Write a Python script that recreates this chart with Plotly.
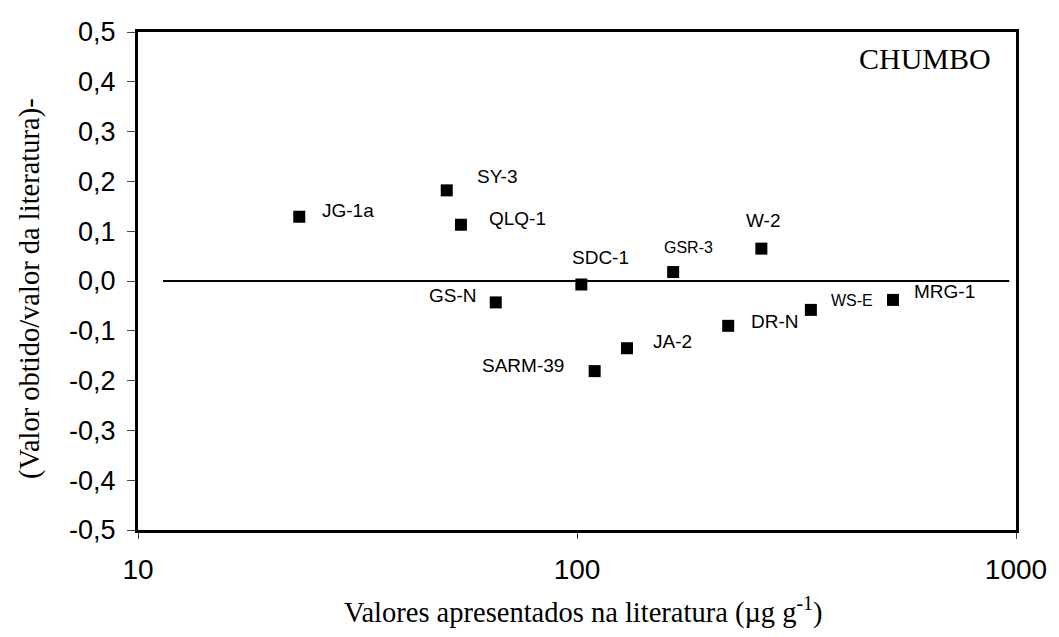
import math
import plotly.graph_objects as go

# ---- data ----
samples = ["JG-1a", "SY-3", "QLQ-1", "GS-N", "SDC-1", "SARM-39", "JA-2",
           "GSR-3", "W-2", "DR-N", "WS-E", "MRG-1"]
lit_values = [23.3, 50.5, 54.4, 65.3, 102.3, 109.7, 130.0,
              165.6, 263.0, 221.0, 341.0, 524.5]
rel_diff = [0.129, 0.182, 0.113, -0.043, -0.007, -0.181, -0.135,
            0.018, 0.065, -0.090, -0.058, -0.038]

# label placement relative to marker (pixels) and anchor
label_dx = [21, 28, 26, -17, 19, -29, 24, 15, 2, 21, 18, 19]
label_dy = [6, 14, 6, 7, 27, 6, 7, 25, 28, 4, 9, 8]
label_anchor = ["left", "left", "left", "right", "center", "right", "left",
                "center", "center", "left", "left", "left"]
label_size = [19, 19, 19, 19, 19, 19, 19, 16, 19, 19, 16, 19]

ref_line_x = [11.4, 965]
ref_line_y = [0, 0]

y_tickvals = [0.5, 0.4, 0.3, 0.2, 0.1, 0.0, -0.1, -0.2, -0.3, -0.4, -0.5]
y_ticktext = ["0,5", "0,4", "0,3", "0,2", "0,1", "0,0", "-0,1", "-0,2",
              "-0,3", "-0,4", "-0,5"]
x_tickvals = [10, 100, 1000]
x_ticktext = ["10", "100", "1000"]

panel_title = "CHUMBO"
x_title = "Valores apresentados na literatura (µg g<sup>-1</sup>)"
y_title = "(Valor obtido/valor da literatura)-"

fig = go.Figure()

fig.add_trace(go.Scatter(
    x=ref_line_x, y=ref_line_y, mode="lines",
    line=dict(color="black", width=2), hoverinfo="skip", showlegend=False))

fig.add_trace(go.Scatter(
    x=lit_values, y=rel_diff, mode="markers",
    marker=dict(symbol="square", size=12, color="black"),
    showlegend=False))

annotations = []
for name, xv, yv, dx, dy, anc, fs in zip(samples, lit_values, rel_diff,
                                         label_dx, label_dy, label_anchor,
                                         label_size):
    annotations.append(dict(
        x=math.log10(xv), y=yv, xref="x", yref="y", text=name,
        showarrow=False, xanchor=anc, yanchor="middle",
        xshift=dx, yshift=dy,
        font=dict(family="Liberation Sans, Arial", size=fs, color="black")))

annotations.append(dict(
    x=1, y=1, xref="paper", yref="paper", text=panel_title, showarrow=False,
    xanchor="center", yanchor="middle", xshift=-91, yshift=-26,
    font=dict(family="Liberation Serif, Times New Roman", size=30,
              color="black")))
annotations.append(dict(
    x=0.5, y=0, xref="paper", yref="paper", text=x_title, showarrow=False,
    xanchor="center", yanchor="middle", xshift=6, yshift=-80,
    font=dict(family="Liberation Serif, Times New Roman", size=28.5,
              color="black")))
annotations.append(dict(
    x=0, y=0.5, xref="paper", yref="paper", text=y_title, showarrow=False,
    xanchor="center", yanchor="middle", xshift=-108, yshift=-8,
    textangle=-90,
    font=dict(family="Liberation Serif, Times New Roman", size=28.5,
              color="black")))

fig.update_layout(
    width=1059, height=637,
    margin=dict(l=138, r=37, t=32, b=107),
    paper_bgcolor="white", plot_bgcolor="white",
    annotations=annotations,
    xaxis=dict(
        type="log", range=[1, 3], tickvals=x_tickvals, ticktext=x_ticktext,
        showgrid=False, zeroline=False,
        showline=True, linewidth=3, linecolor="black", mirror=True,
        ticks="outside", ticklen=6, tickwidth=1, tickcolor="#444",
        ticklabelstandoff=6,
        tickfont=dict(family="Liberation Sans, Arial", size=28,
                      color="black")),
    yaxis=dict(
        range=[-0.5, 0.5], tickvals=y_tickvals, ticktext=y_ticktext,
        showgrid=False, zeroline=False,
        showline=True, linewidth=3, linecolor="black", mirror=True,
        ticks="outside", ticklen=8, tickwidth=1, tickcolor="#444",
        ticklabelstandoff=6,
        tickfont=dict(family="Liberation Sans, Arial", size=27,
                      color="black")),
)

fig.write_html("out.html")
